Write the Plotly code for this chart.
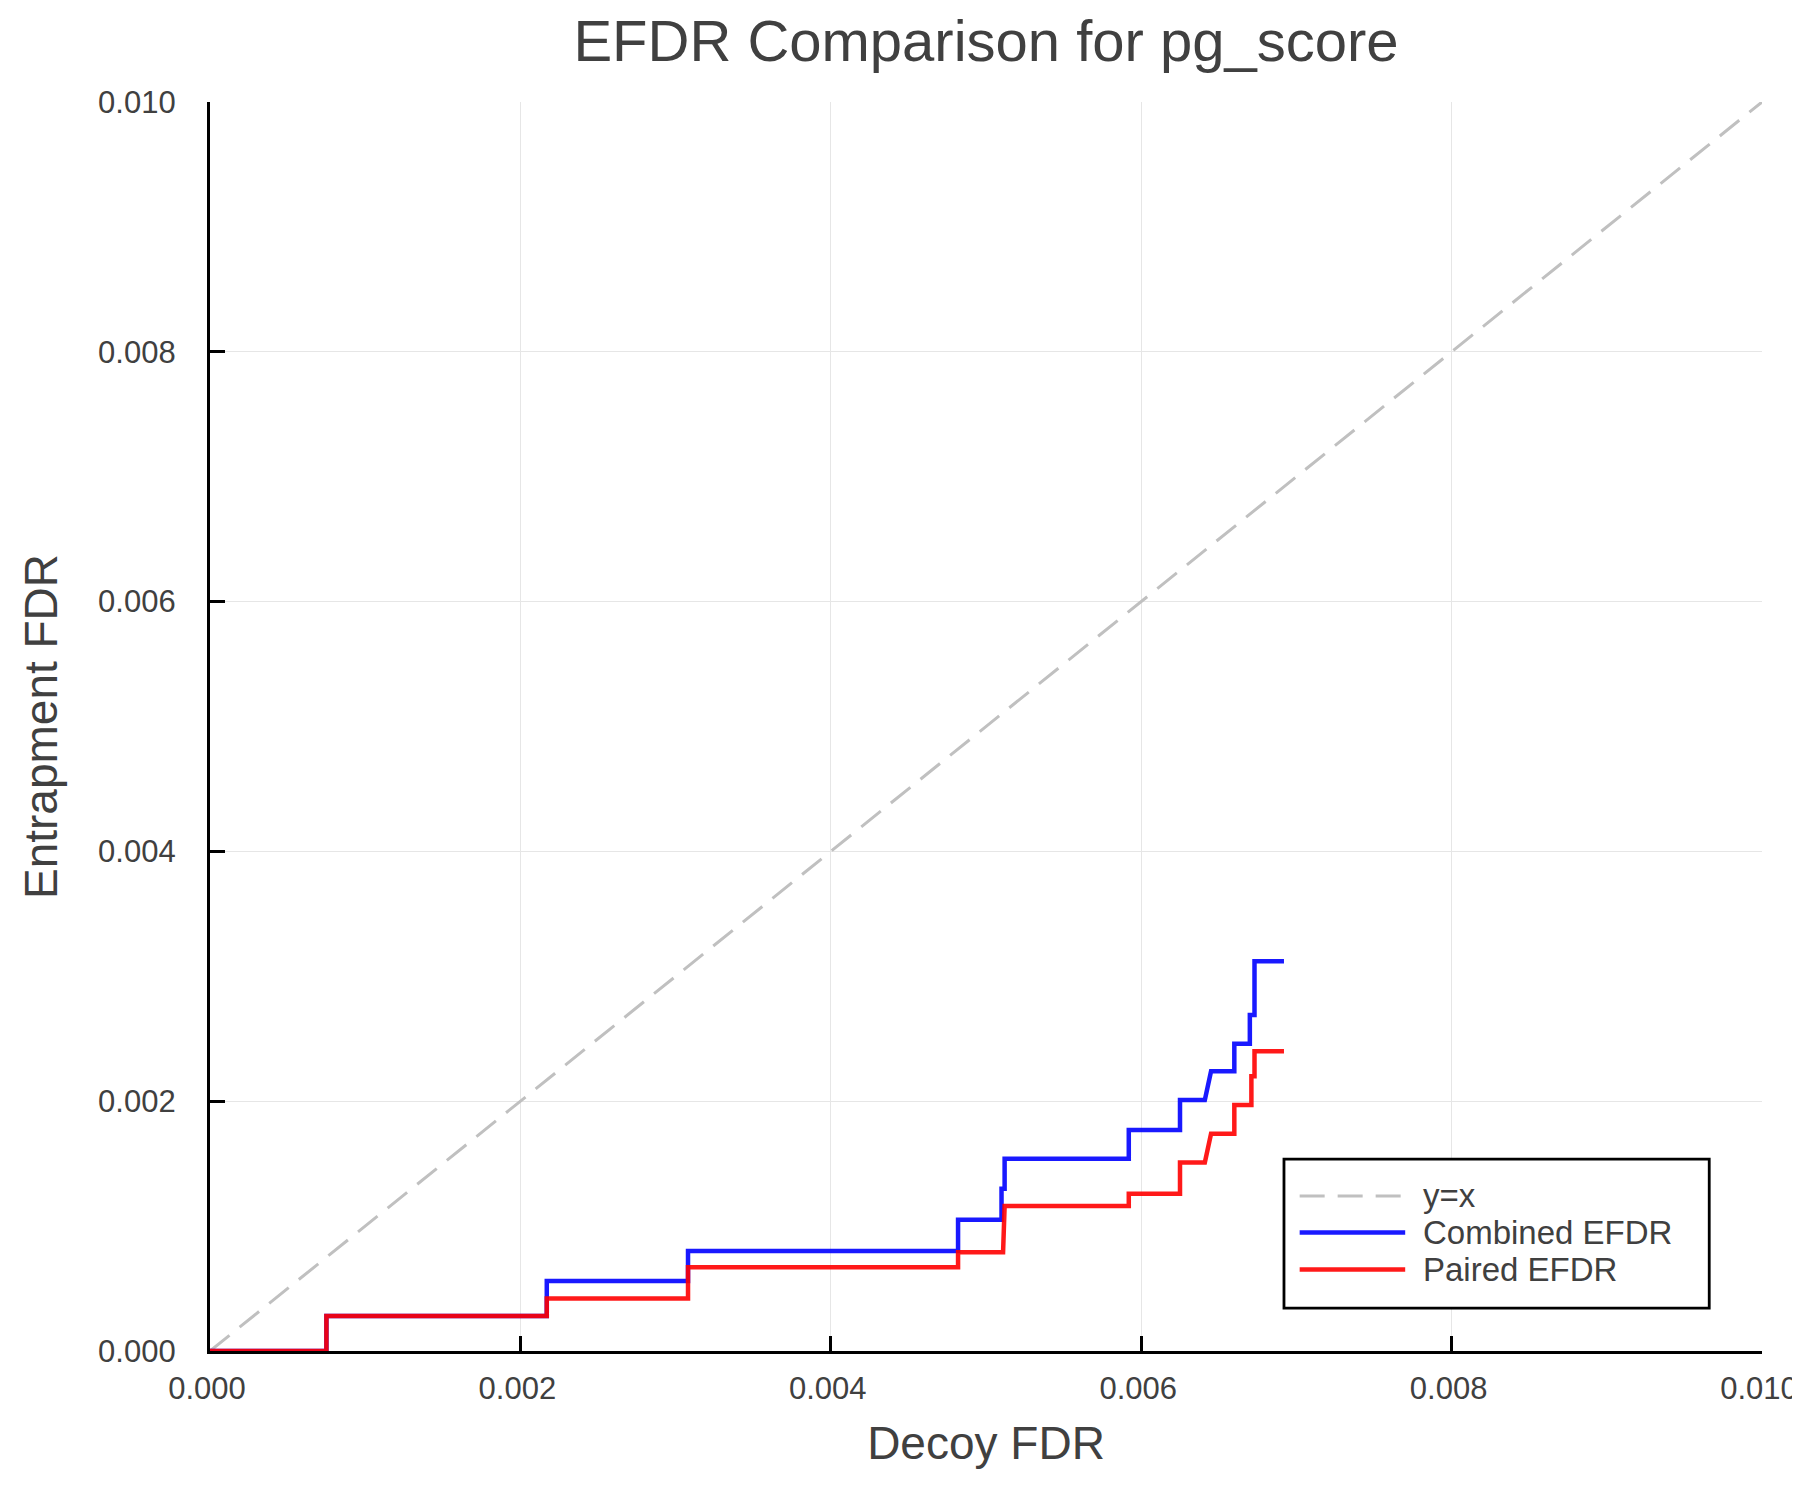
import plotly.graph_objects as go

# decoy FDR / entrapment FDR pairs
identity = [0.0, 0.010]

combined_x = [0.0, 0.00075, 0.00075, 0.00217, 0.00217, 0.00308, 0.00308, 0.00482, 0.00482,
              0.00510, 0.00510, 0.00512, 0.00512, 0.00592, 0.00592, 0.00625, 0.00625,
              0.00641, 0.00645, 0.00660, 0.00660, 0.00670, 0.00670, 0.00673, 0.00673, 0.00692]
combined_y = [0.0, 0.0, 0.00028, 0.00028, 0.00056, 0.00056, 0.00080, 0.00080, 0.00105,
              0.00105, 0.00130, 0.00130, 0.00154, 0.00154, 0.00177, 0.00177, 0.00201,
              0.00201, 0.00224, 0.00224, 0.00246, 0.00246, 0.00269, 0.00269, 0.00312, 0.00312]

paired_x = [0.0, 0.00075, 0.00075, 0.00217, 0.00217, 0.00308, 0.00308, 0.00482, 0.00482,
            0.00511, 0.00512, 0.00592, 0.00592, 0.00625, 0.00625,
            0.00641, 0.00645, 0.00660, 0.00660, 0.00671, 0.00671, 0.00673, 0.00673, 0.00692]
paired_y = [0.0, 0.0, 0.00028, 0.00028, 0.00042, 0.00042, 0.00067, 0.00067, 0.00079,
            0.00079, 0.00116, 0.00116, 0.00126, 0.00126, 0.00151,
            0.00151, 0.00174, 0.00174, 0.00197, 0.00197, 0.00220, 0.00220, 0.00240, 0.00240]

tick_vals = [0.0, 0.002, 0.004, 0.006, 0.008, 0.010]

series_names = ["y=x", "Combined EFDR", "Paired EFDR"]
series_colors = ["#c0c0c0", "rgba(0,0,255,0.9)", "rgba(255,0,0,0.9)"]
series_dash = ["25px,13px", "solid", "solid"]
series_width = [3, 4.5, 4.5]

FONT = "Liberation Sans"
TXT = "#404040"

fig = go.Figure()
for name, xs, ys, col, dash, w in zip(series_names,
                                      [identity, combined_x, paired_x],
                                      [identity, combined_y, paired_y],
                                      series_colors, series_dash, series_width):
    fig.add_trace(go.Scatter(x=xs, y=ys, mode="lines", name=name, showlegend=False,
                             line=dict(color=col, width=w, dash=dash)))

axis_style = dict(
    range=[0, 0.010], tickvals=tick_vals, tickformat=".3f", automargin=False,
    showline=True, linecolor="black", linewidth=3.2, mirror=False,
    ticks="inside", ticklen=15, tickwidth=3, tickcolor="black",
    showgrid=True, gridcolor="#e6e6e6", gridwidth=1, zeroline=False,
    tickfont=dict(family=FONT, size=31, color=TXT), ticklabeloverflow="allow",
)

fig.update_xaxes(**axis_style, title=dict(text="Decoy FDR", font=dict(family=FONT, size=46, color=TXT), standoff=22),
                 ticklabelstandoff=8, ticklabelshift=-3)
fig.update_yaxes(**axis_style, title=dict(text="Entrapment FDR", font=dict(family=FONT, size=46, color=TXT), standoff=27),
                 ticklabelstandoff=25)

# legend box drawn by hand so the line samples are as long as in the original
fig.add_shape(type="rect", xref="paper", yref="paper", x0=0.6920, x1=0.9660, y0=0.0344, y1=0.1537,
              line=dict(color="black", width=2.8), fillcolor="white", layer="above")
row_y = [0.1241, 0.0949, 0.0653]
for name, col, dash, w, ry in zip(series_names, series_colors, series_dash, series_width, row_y):
    fig.add_shape(type="line", xref="paper", yref="paper", x0=0.7021, x1=0.7701, y0=ry, y1=ry,
                  line=dict(color=col, width=w, dash=dash), layer="above")
    fig.add_annotation(text=name, xref="paper", yref="paper", x=0.7802, y=ry,
                       xanchor="left", yanchor="middle", showarrow=False,
                       font=dict(family=FONT, size=33, color=TXT))

fig.update_layout(
    width=1800, height=1500,
    margin=dict(l=202, r=46, t=94, b=157),
    plot_bgcolor="white", paper_bgcolor="white",
    title=dict(text="EFDR Comparison for pg_score", x=0.5, xref="paper", y=0.978, yanchor="middle",
               font=dict(family=FONT, size=58, color=TXT)),
)

fig.write_html("out.html")
